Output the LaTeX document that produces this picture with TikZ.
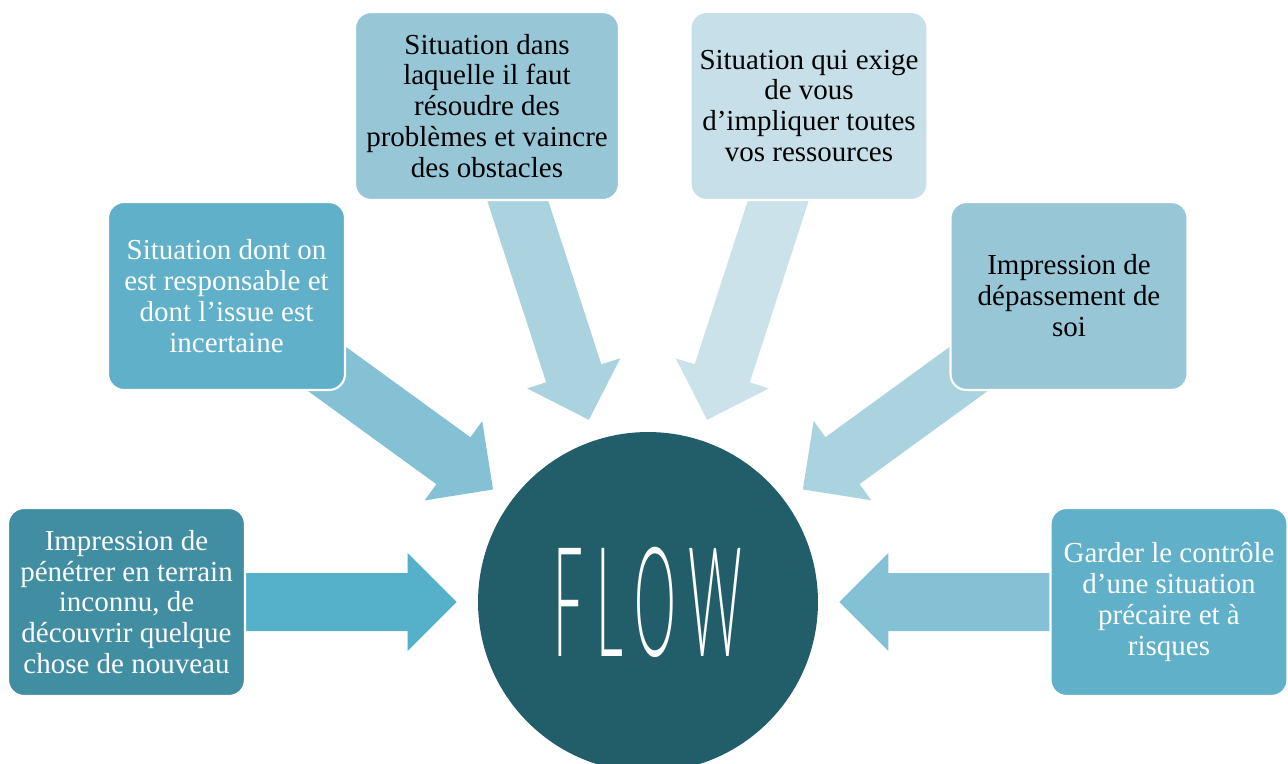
\documentclass[tikz,border=0pt]{standalone}
\usepackage{fontspec}
\setmainfont{Liberation Serif}
\newfontfamily\flowfont[LetterSpace=25]{Lato Light}
\usepackage{tikz}
\usetikzlibrary{calc,backgrounds}
\definecolor{darkbox}{HTML}{418EA3}
\definecolor{midbox}{HTML}{5FB0C8}
\definecolor{lightbox}{HTML}{97C7D7}
\definecolor{palebox}{HTML}{C6DFE8}
\definecolor{arrowA}{HTML}{55B1C9}
\definecolor{arrowB}{HTML}{84C1D4}
\definecolor{arrowC}{HTML}{ABD3DF}
\definecolor{arrowD}{HTML}{CCE2EB}
\definecolor{flowfill}{HTML}{225E6A}
% block arrow from the centre of a box towards the circle
\newcommand{\flowarrow}[2]{%
  \coordinate (tip) at ($(flow)!3.83cm!(#1)$);
  \coordinate (hb) at ($(tip)!0.98cm!(#1)$);
  \fill[#2] ($(#1)!0.58cm!90:(tip)$) -- ($(hb)!0.58cm!90:(tip)$)
    -- ($(hb)!0.98cm!90:(tip)$) -- (tip) -- ($(hb)!0.98cm!-90:(tip)$)
    -- ($(hb)!0.58cm!-90:(tip)$) -- ($(#1)!0.58cm!-90:(tip)$) -- cycle;}

\begin{document}
\begin{tikzpicture}[x=0.02cm,y=-0.02cm,
    box/.style={rounded corners=0.32cm, draw=white, line width=1.2pt,
      minimum width=4.74cm, minimum height=3.76cm, inner sep=0pt,
      align=center, font=\fontsize{16.5}{17.6}\selectfont},
    light/.style={box, text=black},
    dark/.style={box, text=white}]
    \useasboundingbox (0,0) rectangle (1288,764);
    \clip (0,0) rectangle (1288,764);
    \node[circle,fill=flowfill,minimum size=6.8cm,inner sep=0pt,text=white] at (648,602) (flow)
      {\flowfont\fontsize{60}{60}\selectfont\scalebox{0.5}[1.45]{FLOW}};
    \node[dark,fill=darkbox] at (126.5,602) (inconnu) {Impression de\\pénétrer en terrain\\inconnu, de\\découvrir quelque\\chose de nouveau};
    \node[dark,fill=midbox] at (226.5,296) (issue) {Situation dont on\\est responsable et\\dont l’issue est\\incertaine};
    \node[light,fill=lightbox,minimum width=5.28cm] at (487,106) (obstacles) {Situation dans\\laquelle il faut\\résoudre des\\problèmes et vaincre\\des obstacles};
    \node[light,fill=palebox] at (809,106) (ressources) {Situation qui exige\\de vous\\d’impliquer toutes\\vos ressources};
    \node[light,fill=lightbox] at (1069,296) (soi) {Impression de\\dépassement de\\soi};
    \node[dark,fill=midbox] at (1169,602) (controle) {Garder le contrôle\\d’une situation\\précaire et à\\risques};
    \begin{scope}[on background layer]
    \flowarrow{inconnu}{arrowA}
    \flowarrow{issue}{arrowB}
    \flowarrow{obstacles}{arrowC}
    \flowarrow{ressources}{arrowD}
    \flowarrow{soi}{arrowC}
    \flowarrow{controle}{arrowB}
    \end{scope}
\end{tikzpicture}
\end{document}
